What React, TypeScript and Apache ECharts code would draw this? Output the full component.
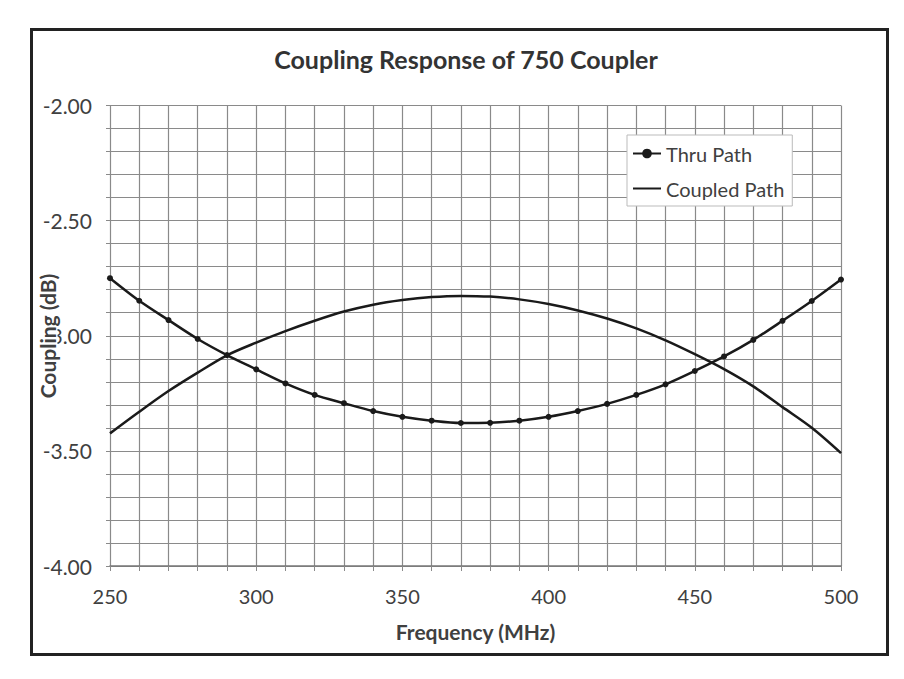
import React, { useEffect, useRef } from "react";
import * as echarts from "echarts";

const frequencies = [250, 260, 270, 280, 290, 300, 310, 320, 330, 340, 350, 360, 370, 380, 390, 400, 410, 420, 430, 440, 450, 460, 470, 480, 490, 500];
const thruPath = [-2.75, -2.848, -2.932, -3.014, -3.084, -3.146, -3.207, -3.257, -3.293, -3.327, -3.352, -3.369, -3.379, -3.378, -3.369, -3.352, -3.327, -3.296, -3.257, -3.211, -3.153, -3.09, -3.018, -2.935, -2.849, -2.756];
const coupledPath = [-3.424, -3.33, -3.24, -3.16, -3.085, -3.03, -2.98, -2.935, -2.895, -2.865, -2.845, -2.832, -2.827, -2.83, -2.842, -2.862, -2.89, -2.925, -2.968, -3.02, -3.08, -3.145, -3.22, -3.31, -3.4, -3.51];

const FONT = "Lato";
const GRID_COLOR = "#8a8a8a";
const Y_TITLE = "Coupling (dB)";

export default function App() {
  const ref = useRef<HTMLDivElement>(null);
  useEffect(() => {
    if (!ref.current) return;
    const chart = echarts.init(ref.current, undefined, { renderer: "svg" });
    chart.setOption({
      animation: false,
      backgroundColor: "#ffffff",
      title: {
        text: "Coupling Response of 750 Coupler",
        left: 461,
        top: 41,
        textAlign: "center",
        textStyle: { fontFamily: FONT, fontWeight: "bold", fontSize: 25, color: "#333333" },
      },
      graphic: [
        {
          type: "rect",
          shape: { x: 31.5, y: 29.5, width: 856, height: 625 },
          style: { fill: "none", stroke: "#222222", lineWidth: 3 },
          silent: true,
        },
        {
          type: "text",
          x: 47,
          y: 336,
          rotation: Math.PI / 2,
          z: 100,
          silent: true,
          style: {
            text: Y_TITLE,
            fontFamily: FONT,
            fontWeight: "bold",
            fontSize: 21,
            fill: "#404040",
            align: "center",
            verticalAlign: "middle",
            backgroundColor: "#ffffff",
            padding: [0, 2, 0, 2],
          },
        },
      ],
      grid: { left: 110, top: 105.5, right: 63, bottom: 113, containLabel: false },
      legend: {
        orient: "vertical",
        left: 627,
        top: 135,
        padding: [8, 8, 7, 5],
        itemGap: 14,
        itemWidth: 28,
        itemHeight: 12,
        backgroundColor: "#ffffff",
        borderColor: "#bbbbbb",
        borderWidth: 1,
        textStyle: { fontFamily: FONT, fontSize: 20, color: "#404040", lineHeight: 21 },
        data: [
          { name: "Thru Path" },
          { name: "Coupled Path", itemStyle: { opacity: 0 } },
        ],
      },
      xAxis: {
        type: "value",
        min: 250,
        max: 500,
        interval: 50,
        name: "Frequency (MHz)",
        nameLocation: "middle",
        nameGap: 55,
        nameMoveOverlap: false,
        nameTextStyle: { fontFamily: FONT, fontWeight: "bold", fontSize: 21, color: "#404040" },
        axisLine: { show: true, lineStyle: { color: "#777777", width: 1.5 } },
        axisTick: { show: true, length: 5, lineStyle: { color: GRID_COLOR } },
        minorTick: { show: true, splitNumber: 5, length: 5, lineStyle: { color: GRID_COLOR } },
        axisLabel: { fontFamily: FONT, fontSize: 20, color: "#404040", margin: 20 },
        splitLine: { show: true, lineStyle: { color: GRID_COLOR, width: 1.2 } },
        minorSplitLine: { show: true, lineStyle: { color: GRID_COLOR, width: 1.2 } },
      },
      yAxis: {
        type: "value",
        min: -4,
        max: -2,
        interval: 0.5,
        axisLine: { show: true, lineStyle: { color: GRID_COLOR, width: 1 } },
        axisTick: { show: true, length: 4, lineStyle: { color: GRID_COLOR } },
        minorTick: { show: true, splitNumber: 5, length: 4, lineStyle: { color: GRID_COLOR } },
        axisLabel: {
          fontFamily: FONT,
          fontSize: 21,
          color: "#404040",
          margin: 18,
          formatter: (v: number) => v.toFixed(2),
        },
        splitLine: { show: true, lineStyle: { color: GRID_COLOR, width: 1.2 } },
        minorSplitLine: { show: true, lineStyle: { color: GRID_COLOR, width: 1.2 } },
      },
      series: [
        {
          name: "Thru Path",
          type: "line",
          data: frequencies.map((f, i) => [f, thruPath[i]]),
          smooth: 0.3,
          symbol: "circle",
          symbolSize: 6,
          itemStyle: { color: "#1a1a1a" },
          lineStyle: { color: "#1a1a1a", width: 2.5 },
        },
        {
          name: "Coupled Path",
          type: "line",
          data: frequencies.map((f, i) => [f, coupledPath[i]]),
          smooth: 0.3,
          symbol: "none",
          itemStyle: { color: "#1a1a1a" },
          lineStyle: { color: "#1a1a1a", width: 2.5 },
        },
      ],
    });
    return () => chart.dispose();
  }, []);
  return (
    <div
      ref={ref}
      style={{ position: "fixed", left: 0, top: 0, width: 904, height: 679 }}
    />
  );
}
